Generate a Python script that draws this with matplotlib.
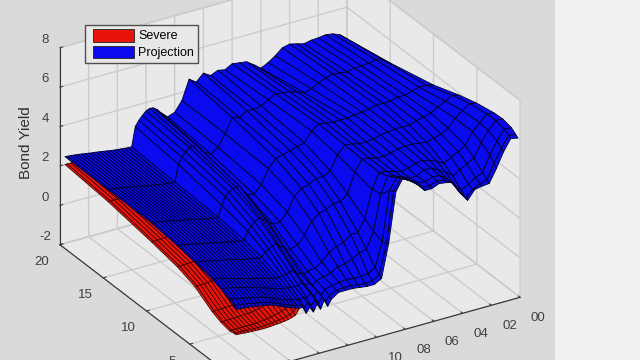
import numpy as np
import matplotlib
matplotlib.use("Agg")
import matplotlib.pyplot as plt
from matplotlib.patches import Patch, Rectangle
from matplotlib.legend_handler import HandlerPatch
from mpl_toolkits.mplot3d import proj3d

maturities = [0.25, 0.5, 1, 2, 3, 5, 7, 10, 15, 20]
projection_years = [0, 0.5, 1, 1.5, 2, 2.5, 3, 3.5, 4, 4.5, 5, 5.5, 6, 6.5, 7, 7.5, 8, 8.5, 9, 9.5,
                    10, 10.5, 11, 11.5, 12, 12.5, 13, 13.25, 13.5, 13.75, 14, 14.25, 14.5, 14.75, 15, 15.25,
                    15.5, 15.75, 16, 16.25, 16.5, 16.75, 17, 17.25, 17.5, 17.75, 18, 18.25, 18.5, 18.75,
                    19, 19.25, 19.5, 19.65]
projection_yield = [
    [6.00, 6.10, 6.27, 6.38, 6.35, 6.17, 5.90, 5.41, 4.85, 4.40],
    [6.07, 6.15, 6.30, 6.40, 6.40, 6.25, 6.00, 5.50, 5.10, 4.70],
    [5.50, 5.60, 5.80, 6.00, 6.05, 6.00, 5.80, 5.50, 5.20, 4.85],
    [4.75, 4.95, 5.20, 5.50, 5.70, 5.70, 5.60, 5.40, 5.15, 4.90],
    [4.10, 4.20, 4.40, 4.80, 5.10, 5.30, 5.40, 5.30, 5.10, 4.85],
    [4.06, 4.10, 4.25, 4.60, 4.90, 5.10, 5.30, 5.30, 5.10, 4.83],
    [4.00, 3.90, 4.00, 4.40, 4.70, 5.00, 5.20, 5.20, 5.00, 4.75],
    [3.55, 3.60, 3.80, 4.20, 4.50, 4.90, 5.10, 5.20, 5.05, 4.85],
    [4.00, 4.05, 4.20, 4.50, 4.70, 4.95, 5.10, 5.20, 5.10, 4.94],
    [4.65, 4.60, 4.60, 4.70, 4.85, 5.00, 5.10, 5.10, 5.00, 4.85],
    [4.75, 4.80, 4.85, 4.90, 4.95, 5.00, 5.05, 5.05, 4.85, 4.55],
    [4.80, 4.85, 4.90, 4.90, 4.90, 4.95, 5.00, 5.00, 4.65, 4.30],
    [4.65, 4.70, 4.75, 4.70, 4.75, 4.85, 4.90, 4.95, 4.55, 4.12],
    [4.65, 4.72, 4.80, 4.70, 4.70, 4.80, 4.85, 4.95, 4.70, 4.40],
    [5.05, 5.05, 5.00, 4.85, 4.80, 4.80, 4.85, 4.95, 4.80, 4.65],
    [5.35, 5.30, 5.20, 5.00, 4.90, 4.90, 4.95, 5.00, 4.85, 4.70],
    [5.60, 5.50, 5.35, 5.10, 4.95, 4.95, 5.00, 5.05, 4.90, 4.75],
    [5.00, 4.95, 4.80, 4.30, 4.20, 4.40, 4.60, 4.80, 4.70, 4.55],
    [2.50, 2.40, 2.30, 2.50, 2.80, 3.40, 3.90, 4.30, 4.50, 4.62],
    [0.80, 0.90, 1.10, 1.70, 2.20, 3.10, 3.70, 4.20, 4.40, 4.46],
    [0.60, 0.70, 0.90, 1.60, 2.20, 3.10, 3.70, 4.10, 4.45, 4.68],
    [0.60, 0.65, 0.85, 1.40, 1.90, 2.90, 3.50, 4.00, 4.20, 4.33],
    [0.65, 0.70, 0.85, 1.25, 1.80, 2.80, 3.40, 3.90, 4.30, 4.58],
    [0.70, 0.75, 0.90, 1.20, 1.60, 2.50, 3.10, 3.50, 3.60, 3.60],
    [0.70, 0.75, 0.85, 1.00, 1.20, 1.90, 2.40, 2.80, 3.00, 3.10],
    [0.70, 0.72, 0.80, 0.90, 1.00, 1.50, 2.00, 2.40, 2.75, 2.97],
    [0.45, 0.55, 0.70, 0.80, 0.95, 1.40, 2.00, 2.50, 2.95, 3.30],
    [0.15, 0.30, 0.45, 0.60, 0.85, 1.40, 2.10, 2.70, 3.20, 3.50],
    [0.50, 0.58, 0.70, 0.80, 0.95, 1.60, 2.30, 3.00, 3.40, 3.63],
    [0.10, 0.30, 0.50, 0.70, 1.00, 1.70, 2.40, 3.00, 3.40, 3.65],
    [0.40, 0.55, 0.70, 0.90, 1.20, 1.90, 2.50, 3.00, 3.40, 3.57],
    [0.06, 0.28, 0.50, 0.82, 1.15, 1.80, 2.35, 2.85, 3.20, 3.40],
    [0.35, 0.48, 0.60, 0.80, 1.10, 1.70, 2.20, 2.70, 3.00, 3.20],
    [0.10, 0.30, 0.52, 0.82, 1.08, 1.60, 2.00, 2.30, 2.70, 2.93],
    [0.45, 0.50, 0.60, 0.85, 1.05, 1.40, 1.60, 1.75, 1.85, 1.95],
    [0.45, 0.50, 0.62, 0.87, 1.07, 1.40, 1.60, 1.76, 1.86, 1.96],
    [0.52, 0.57, 0.68, 0.92, 1.10, 1.44, 1.63, 1.78, 1.88, 1.98],
    [0.58, 0.63, 0.74, 0.96, 1.15, 1.47, 1.66, 1.81, 1.90, 2.00],
    [0.65, 0.70, 0.80, 1.02, 1.20, 1.50, 1.70, 1.85, 1.93, 2.02],
    [0.72, 0.77, 0.87, 1.08, 1.25, 1.54, 1.74, 1.89, 1.96, 2.04],
    [0.80, 0.85, 0.95, 1.14, 1.30, 1.58, 1.78, 1.93, 1.99, 2.07],
    [0.88, 0.93, 1.02, 1.20, 1.35, 1.63, 1.82, 1.97, 2.02, 2.10],
    [0.95, 1.00, 1.10, 1.26, 1.40, 1.67, 1.86, 2.02, 2.06, 2.13],
    [1.02, 1.07, 1.17, 1.32, 1.45, 1.72, 1.90, 2.06, 2.10, 2.16],
    [1.06, 1.12, 1.22, 1.38, 1.50, 1.76, 1.94, 2.10, 2.13, 2.19],
    [1.10, 1.16, 1.26, 1.43, 1.55, 1.80, 1.98, 2.14, 2.17, 2.21],
    [1.13, 1.20, 1.30, 1.48, 1.60, 1.84, 2.02, 2.18, 2.20, 2.24],
    [1.16, 1.23, 1.34, 1.53, 1.65, 1.88, 2.06, 2.22, 2.24, 2.27],
    [1.19, 1.26, 1.38, 1.58, 1.70, 1.92, 2.10, 2.26, 2.27, 2.30],
    [1.22, 1.30, 1.42, 1.62, 1.76, 1.96, 2.14, 2.30, 2.31, 2.33],
    [1.24, 1.33, 1.46, 1.66, 1.81, 2.00, 2.18, 2.34, 2.34, 2.35],
    [1.26, 1.36, 1.50, 1.70, 1.85, 2.05, 2.21, 2.37, 2.37, 2.37],
    [1.28, 1.38, 1.53, 1.73, 1.88, 2.08, 2.24, 2.39, 2.39, 2.39],
    [1.30, 1.40, 1.55, 1.75, 1.90, 2.10, 2.25, 2.40, 2.40, 2.40],
]
severe_years = [15.25, 15.5, 15.75, 16, 16.25, 16.5, 16.75, 17, 17.25, 17.5, 17.75, 18, 18.25, 18.5, 18.75,
                19, 19.25, 19.5, 19.65]
severe_yield = [
    [0.40, 0.45, 0.55, 0.85, 1.05, 1.38, 1.58, 1.74, 1.84, 1.94],
    [0.15, 0.22, 0.35, 0.65, 0.90, 1.30, 1.55, 1.72, 1.84, 1.94],
    [0.08, 0.15, 0.28, 0.55, 0.80, 1.25, 1.50, 1.70, 1.84, 1.95],
    [0.03, 0.10, 0.20, 0.48, 0.72, 1.20, 1.48, 1.68, 1.84, 1.95],
    [0.00, 0.06, 0.15, 0.40, 0.65, 1.15, 1.45, 1.66, 1.83, 1.95],
    [-0.02, 0.03, 0.10, 0.32, 0.55, 1.10, 1.42, 1.63, 1.83, 1.96],
    [-0.04, 0.00, 0.06, 0.25, 0.48, 1.05, 1.38, 1.60, 1.82, 1.96],
    [-0.05, -0.02, 0.03, 0.20, 0.42, 1.00, 1.35, 1.58, 1.82, 1.96],
    [-0.07, -0.03, 0.00, 0.16, 0.38, 0.97, 1.32, 1.55, 1.81, 1.97],
    [-0.08, -0.05, -0.02, 0.13, 0.35, 0.94, 1.29, 1.53, 1.81, 1.97],
    [-0.08, -0.06, -0.04, 0.11, 0.32, 0.92, 1.27, 1.51, 1.80, 1.97],
    [-0.08, -0.06, -0.05, 0.10, 0.30, 0.90, 1.25, 1.49, 1.80, 1.98],
    [-0.07, -0.06, -0.05, 0.09, 0.29, 0.89, 1.24, 1.48, 1.80, 1.98],
    [-0.06, -0.05, -0.05, 0.08, 0.28, 0.88, 1.22, 1.47, 1.80, 1.98],
    [-0.05, -0.04, -0.05, 0.07, 0.27, 0.87, 1.21, 1.46, 1.80, 1.99],
    [-0.04, -0.03, -0.05, 0.06, 0.26, 0.86, 1.20, 1.45, 1.80, 1.99],
    [-0.02, -0.02, -0.05, 0.06, 0.26, 0.85, 1.19, 1.44, 1.80, 2.00],
    [-0.01, -0.01, -0.05, 0.05, 0.25, 0.85, 1.18, 1.43, 1.79, 2.00],
    [0.00, 0.00, -0.05, 0.05, 0.25, 0.85, 1.17, 1.43, 1.79, 2.00],
]
x_ticks = [0, 2, 4, 6, 8, 10, 12, 14, 16, 18, 20]
x_tick_labels = ["00", "02", "04", "06", "08", "10", "12", "14", "16", "18", "20"]
y_ticks = [0, 5, 10, 15, 20]
z_ticks = [-2, 0, 2, 4, 6, 8]

RED = "#E8140C"
BLUE = "#0A0AEE"
plt.rcParams["font.family"] = ["Liberation Sans", "DejaVu Sans"]
plt.rcParams["axes.unicode_minus"] = False

fig = plt.figure(figsize=(6.4, 3.6), dpi=100, facecolor="#F0F0F0")
fig.add_artist(Rectangle((0, 0), 555 / 640, 1, transform=fig.transFigure,
                         facecolor="#DADADA", edgecolor="none", zorder=-10))
ax = fig.add_axes([0, 0, 1, 1], projection="3d", computed_zorder=False, proj_type="ortho")
ax.patch.set_alpha(0)
ax.view_init(elev=27.5, azim=238.9)
ax.set_box_aspect((335, 335, 222), zoom=1)
ax.set_xlim(20, 0, view_margin=0)
ax.set_ylim(0, 20, view_margin=0)
ax.set_zlim(-2, 8, view_margin=0)


def place(S):
    cx, cy = 290, 360 - 172.5
    ax.set_position([(cx - S / 2) / 640, (cy - S / 2) / 360, S / 640, S / 360])
    ax.apply_aspect()
    M = ax.get_proj()
    pts = [(20, 0, -2), (0, 0, -2), (20, 20, -2), (20, 0, 8), (10, 10, 3)]
    out = []
    for p in pts:
        xs, ys, _ = proj3d.proj_transform(*p, M)
        out.append(ax.transData.transform((xs, ys)))
    return out


p = place(1000)
length = np.hypot(*(p[0] - p[1]))
S = 1000 * np.hypot(287, 80) / length
p = place(S)
centre = p[4]
S_off = np.array([290, 360 - 172.5]) - centre
pos = ax.get_position()
ax.set_position([pos.x0 + S_off[0] / 640, pos.y0 + S_off[1] / 360, pos.width, pos.height])

xg, yg = np.meshgrid(severe_years, maturities, indexing="ij")
ax.plot_surface(xg, yg, np.array(severe_yield), color=RED, edgecolor="#300000", linewidth=0.5,
                shade=False, rstride=1, cstride=1, zorder=2)
xg, yg = np.meshgrid(projection_years, maturities, indexing="ij")
ax.plot_surface(xg, yg, np.array(projection_yield), color=BLUE, edgecolor="#000028", linewidth=0.6,
                shade=False, rstride=1, cstride=1, zorder=3)

ax.set_xticks(x_ticks)
ax.set_xticklabels(x_tick_labels, ha="left", va="center")
ax.set_yticks(y_ticks)
ax.set_yticklabels([str(v) for v in y_ticks], va="center")
ax.set_zticks(z_ticks)
ax.set_zticklabels([str(v) for v in z_ticks], va="bottom")
for axis in (ax.xaxis, ax.yaxis, ax.zaxis):
    axis.set_pane_color("#E9E9E9")
    axis.pane.set_edgecolor("#C8C8C8")
    axis.line.set_color("#303030")
    axis.line.set_linewidth(0.8)
    axis._axinfo["grid"].update(color="#CCCCCC", linewidth=1.0)
    axis._axinfo["tick"].update(inward_factor=0.0, outward_factor=0.12)
    axis.set_tick_params(labelsize=9.5, colors="#404040", pad=4, width=0.7)
ax.zaxis.set_tick_params(pad=-2)
ax.zaxis.set_rotate_label(False)
ax.set_zlabel("Bond Yield", fontsize=11, color="#303030", rotation=90, labelpad=-7)

ax.legend(handles=[Patch(facecolor=RED, edgecolor="#222222", linewidth=0.6, label="Severe"),
                   Patch(facecolor=BLUE, edgecolor="#222222", linewidth=0.6, label="Projection")],
          handler_map={Patch: HandlerPatch(xpad=0.3)},
          loc="upper left", bbox_to_anchor=(85 / 640, 1 - 25 / 360), bbox_transform=fig.transFigure,
          fontsize=9, fancybox=False, framealpha=1, facecolor="#E8E8E8", edgecolor="#505050",
          handlelength=3.6, handleheight=1.2, borderpad=0.3, labelspacing=0.25, handletextpad=0.35,
          borderaxespad=0)

fig.savefig("out.png", dpi=100, facecolor=fig.get_facecolor())
